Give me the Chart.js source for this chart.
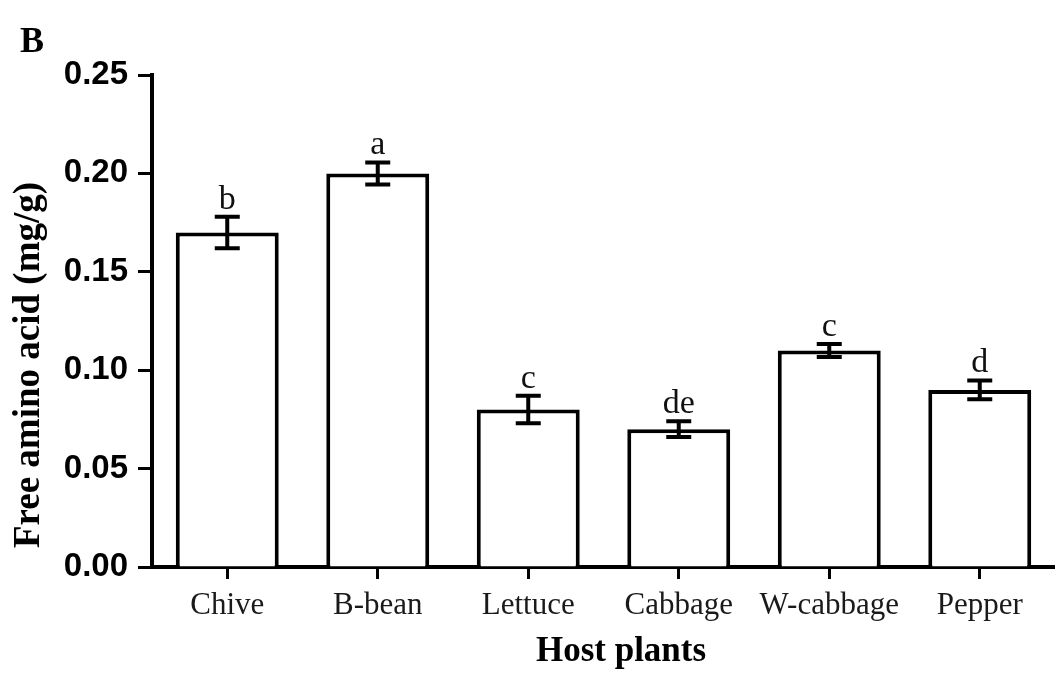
<!DOCTYPE html>
<html>
<head>
<meta charset="utf-8">
<script src="https://cdn.jsdelivr.net/npm/chart.js@4/dist/chart.umd.min.js"></script>
<style>
  html, body { margin: 0; padding: 0; background: #fff; }
  #wrap { width: 1055px; height: 685px; position: relative; }
</style>
</head>
<body>
<div id="wrap"><canvas id="c" width="1055" height="685"></canvas></div>
<script>
const categories = ['Chive', 'B-bean', 'Lettuce', 'Cabbage', 'W-cabbage', 'Pepper'];
const values = [0.170, 0.200, 0.080, 0.070, 0.110, 0.090];
const errors = [0.008, 0.0056, 0.007, 0.004, 0.0033, 0.0048];
const sigLetters = ['b', 'a', 'c', 'de', 'c', 'd'];
const yTicks = [0.00, 0.05, 0.10, 0.15, 0.20, 0.25];
const panelLabel = 'B';
const xTitle = 'Host plants';
const yTitle = 'Free amino acid (mg/g)';

const errorBarPlugin = {
  id: 'errorBars',
  afterDatasetsDraw(chart) {
    const ctx = chart.ctx;
    const yScale = chart.scales.y;
    const meta = chart.getDatasetMeta(0);
    ctx.save();
    ctx.strokeStyle = '#000';
    ctx.lineWidth = 4;
    ctx.lineCap = 'butt';
    meta.data.forEach((el, i) => {
      const x = el.x;
      const yTop = yScale.getPixelForValue(values[i] + errors[i]);
      const yBot = yScale.getPixelForValue(values[i] - errors[i]);
      const hw = 12.5;
      ctx.beginPath();
      ctx.moveTo(x, yTop); ctx.lineTo(x, yBot);
      ctx.moveTo(x - hw, yTop); ctx.lineTo(x + hw, yTop);
      ctx.moveTo(x - hw, yBot); ctx.lineTo(x + hw, yBot);
      ctx.stroke();
      ctx.fillStyle = '#111';
      ctx.font = '34px "Liberation Serif", "Times New Roman", serif';
      ctx.textAlign = 'center';
      ctx.textBaseline = 'alphabetic';
      ctx.fillText(sigLetters[i], x, yTop - 8);
    });
    ctx.restore();
  }
};

const textPlugin = {
  id: 'extraText',
  afterDraw(chart) {
    const ctx = chart.ctx;
    ctx.save();
    ctx.fillStyle = '#000';
    ctx.font = 'bold 36px "Liberation Serif", "Times New Roman", serif';
    ctx.textAlign = 'left';
    ctx.textBaseline = 'alphabetic';
    ctx.fillText(panelLabel, 20, 52);
    // x axis title
    ctx.font = 'bold 35px "Liberation Serif", "Times New Roman", serif';
    ctx.textAlign = 'center';
    ctx.textBaseline = 'middle';
    ctx.fillText(xTitle, 621, 652);
    // y axis title
    ctx.translate(29, 365);
    ctx.rotate(-Math.PI / 2);
    ctx.font = 'bold 37px "Liberation Serif", "Times New Roman", serif';
    ctx.fillText(yTitle, 0, 0);
    ctx.restore();
  }
};

new Chart(document.getElementById('c'), {
  type: 'bar',
  data: {
    labels: categories,
    datasets: [{
      data: values,
      backgroundColor: '#ffffff',
      borderColor: '#000000',
      borderWidth: 4,
      barPercentage: 0.684,
      categoryPercentage: 1.0
    }]
  },
  options: {
    responsive: false,
    animation: false,
    devicePixelRatio: 1,
    layout: { padding: { top: 75, right: 0, left: 0, bottom: 0 } },
    plugins: {
      legend: { display: false },
      tooltip: { enabled: false },
      title: { display: false }
    },
    scales: {
      x: {
        offset: true,
        grid: {
          display: true,
          offset: false,
          drawOnChartArea: false,
          drawTicks: true,
          tickLength: 12,
          tickWidth: 3,
          tickColor: '#000'
        },
        border: { display: true, color: '#000', width: 4 },
        ticks: {
          color: '#1a1a1a',
          padding: 8,
          maxRotation: 0,
          autoSkip: false,
          font: { family: '"Liberation Serif", "Times New Roman", serif', size: 31 }
        },
        title: { display: false },
        afterFit(scale) { scale.height = 118; }
      },
      y: {
        min: 0,
        max: 0.25,
        grid: {
          display: true,
          drawOnChartArea: false,
          drawTicks: true,
          tickLength: 14,
          tickWidth: 3,
          tickColor: '#000'
        },
        border: { display: true, color: '#000', width: 4 },
        afterBuildTicks(scale) { scale.ticks = yTicks.map(v => ({ value: v })); },
        ticks: {
          color: '#000',
          padding: 10,
          font: { family: '"Liberation Sans", Arial, sans-serif', size: 33, weight: 'bold' },
          callback: (v) => Number(v).toFixed(2)
        },
        title: { display: false },
        afterFit(scale) { scale.width = 152; }
      }
    }
  },
  plugins: [errorBarPlugin, textPlugin]
});
</script>
</body>
</html>
